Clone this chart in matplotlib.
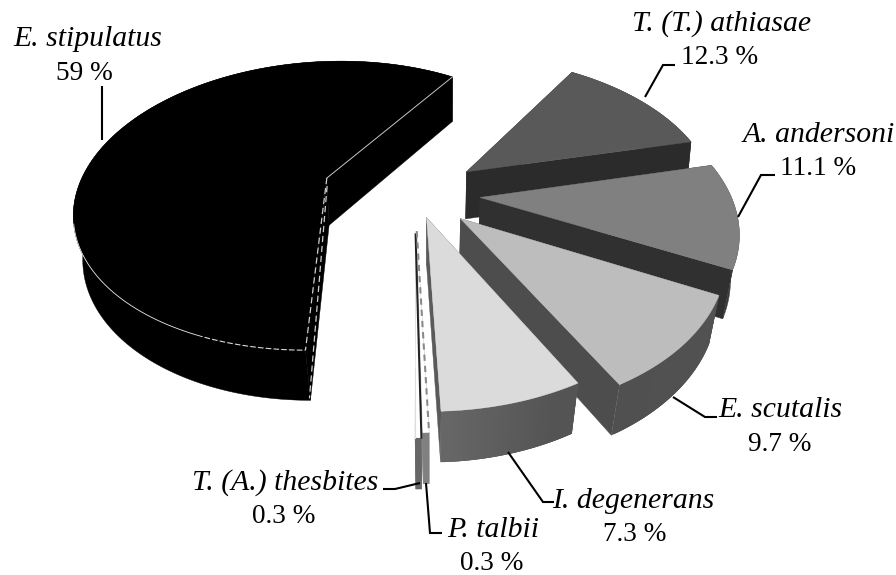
import numpy as np
import matplotlib
matplotlib.use("Agg")
import matplotlib.pyplot as plt
from matplotlib.patches import Polygon

plt.rcParams['font.family'] = ['Liberation Serif', 'DejaVu Serif']

# ---- data ----
species = ["E. stipulatus", "T. (A.) thesbites", "P. talbii", "I. degenerans",
           "E. scutalis", "A. andersoni", "T. (T.) athiasae"]
percent = [59, 0.3, 0.3, 7.3, 9.7, 11.1, 12.3]
percent_labels = ["59 %", "0.3 %", "0.3 %", "7.3 %", "9.7 %", "11.1 %", "12.3 %"]
explode = [0.375, 0.27, 0.25, 0.17, 0.245, 0.26, 0.26]
top_colors = ["#000000", "#ffffff", "#ffffff", "#dbdbdb", "#bdbdbd", "#808080", "#595959"]
radial_colors = ["#000000", "#666666", "#808080", "#5a5a5a", "#4d4d4d", "#303030", "#2b2b2b"]
outer_left = ["#000000", "#666666", "#808080", "#6e6e6e", "#505050", "#3a3a3a", "#2b2b2b"]
outer_right = ["#000000", "#666666", "#808080", "#545454", "#525252", "#3a3a3a", "#2b2b2b"]

# ---- projection of the pie plane ----
START = 57.5
CX, CY, F, G, P = 415.0, 193.0, 250.0, 145.0, 0.195
H0, H1, VX = 47.5, 3.0, 430.0
SHRINK0, SHRINK1 = 0.024, 0.018


def project(x, y):
    w = 1 + P * y
    return CX + F * x / w, CY - G * y / w


def lower(x, y):
    sx, sy = project(x, y)
    return VX + (sx - VX) * (1 - (SHRINK0 - SHRINK1 * y)), sy + H0 - H1 * y


fig = plt.figure(figsize=(8.96, 5.75), dpi=100)
ax = fig.add_axes([0, 0, 1, 1])
ax.set_xlim(0, 896)
ax.set_ylim(575, 0)
ax.axis("off")

spans = np.array(percent) / sum(percent) * 360
starts = START + np.concatenate([[0], np.cumsum(spans)[:-1]])
geom = {}
for i in range(len(percent)):
    mid = np.radians(starts[i] + spans[i] / 2)
    ox, oy = explode[i] * np.cos(mid), explode[i] * np.sin(mid)
    th = np.radians(np.linspace(starts[i], starts[i] + spans[i], max(int(spans[i] * 2), 8)))
    geom[i] = (ox, oy, ox + np.cos(th), oy + np.sin(th))


def poly(pts, color, z):
    ax.add_patch(Polygon(pts, closed=True, facecolor=color, edgecolor=color, lw=0.3, zorder=z))


def mix(a, b, t):
    ca, cb = np.array(matplotlib.colors.to_rgb(a)), np.array(matplotlib.colors.to_rgb(b))
    return ca + (cb - ca) * t


# back-to-front drawing order
order = [0, 6, 5, 4, 1, 2, 3]
for z, i in enumerate(order):
    base = z * 10 + 1
    ox, oy, ax_, ay_ = geom[i]
    apex_t, apex_b = project(ox, oy), lower(ox, oy)
    # radial walls
    for xe, ye in ((ax_[0], ay_[0]), (ax_[-1], ay_[-1])):
        poly([apex_t, project(xe, ye), lower(xe, ye), apex_b], radial_colors[i], base)
    # outer wall: overlapping strips so no seams show through
    n = len(ax_)
    if outer_left[i] == outer_right[i]:
        top = [project(a, b) for a, b in zip(ax_, ay_)]
        bot = [lower(a, b) for a, b in zip(ax_, ay_)]
        poly(top + bot[::-1], outer_left[i], base + 1)
    else:
        for k in range(n - 1):
            t = np.clip(((ax_[k] - ox) + 0.1) / 0.5, 0, 1) if i == 3 else k / max(n - 2, 1)
            col = mix(outer_left[i], outer_right[i], t)
            j = min(k + 3, n - 1)
            top = [project(a, b) for a, b in zip(ax_[k:j + 1], ay_[k:j + 1])]
            bot = [lower(a, b) for a, b in zip(ax_[k:j + 1], ay_[k:j + 1])]
            ax.add_patch(Polygon(top + bot[::-1], closed=True, facecolor=col, edgecolor="none", lw=0, zorder=base + 1))
    # top face
    sx, sy = project(ax_, ay_)
    poly([apex_t] + list(zip(sx, sy)), top_colors[i], base + 2)

# hairlines on the black slice
ox, oy, xs, ys = geom[0]
tz = 100
a_t, a_b = project(ox, oy), lower(ox, oy)
c0 = project(xs[0], ys[0])
c1 = project(xs[-1], ys[-1])
ax.plot([a_t[0], c0[0]], [a_t[1], c0[1]], color="#c4c4c4", lw=0.7, zorder=tz)
ax.plot([a_t[0], c1[0]], [a_t[1], c1[1]], color="#d0d0d0", lw=0.9, dashes=(5, 3), zorder=tz)
c1b = lower(xs[-1], ys[-1])
ax.plot([a_b[0] - 2, c1b[0] - 1], [a_t[1] + 8, c1b[1] - 2], color="#d0d0d0", lw=0.9, dashes=(5, 3), zorder=tz)
sel = np.degrees(np.arctan2(ys - oy, xs - ox)) % 360
front = (sel > 198) & (sel < 290)
fx, fy = project(xs[front], ys[front])
split = int(len(fx) * 0.72)
ax.plot(fx[:split], fy[:split], color="#e8e8e8", lw=0.6, zorder=tz)
ax.plot(fx[split:], fy[split:], color="#d8d8d8", lw=0.8, dashes=(5, 2), zorder=tz)

# edges of the two thin slices
ox, oy, xs, ys = geom[1]
a = project(ox, oy)
e0 = project(xs[0], ys[0])
e1 = project(xs[-1], ys[-1])
ax.plot([a[0], e1[0]], [a[1], e1[1]], color="#222222", lw=1.4, zorder=90)
ax.plot([e0[0], e0[0]], [e0[1] - 70, e0[1]], color="#dddddd", lw=0.8, zorder=91)
ox, oy, xs, ys = geom[2]
a = project(ox, oy)
e1 = project(xs[-1], ys[-1])
ax.plot([a[0], e1[0]], [a[1], e1[1]], color="#8a8a8a", lw=1.5, dashes=(3, 2.4), zorder=90)

# leader lines
leaders = [
    ([101.7, 101.7], [140, 86]),
    ([645, 663, 675], [97, 65, 65]),
    ([738, 761, 775], [217, 175, 175]),
    ([673, 705, 717], [397, 417, 417]),
    ([508, 543, 554], [452, 502, 502]),
    ([426, 430, 442], [483, 533, 533]),
    ([420, 395, 383], [483, 489, 489]),
]
for lx, ly in leaders:
    ax.plot(lx, ly, color="black", lw=1.5, zorder=120, solid_capstyle="butt", solid_joinstyle="miter")

# labels: species name, percentage
FS_NAME, FS_PCT = 21.4, 19.6
name_pos = {0: (13, 46), 6: (632, 31), 5: (743, 142), 4: (718, 417), 3: (552, 508), 1: (192, 490), 2: (447, 537)}
pct_pos = {0: (56, 80), 6: (681, 64), 5: (780, 175), 4: (748, 451), 3: (603, 541), 1: (252, 523), 2: (460, 570)}
for i in range(len(species)):
    ax.text(*name_pos[i], species[i], style="italic", fontsize=FS_NAME, ha="left", va="baseline", zorder=130)
    ax.text(*pct_pos[i], percent_labels[i], fontsize=FS_PCT, ha="left", va="baseline", zorder=130)

fig.savefig("out.png", dpi=100, facecolor="white")
